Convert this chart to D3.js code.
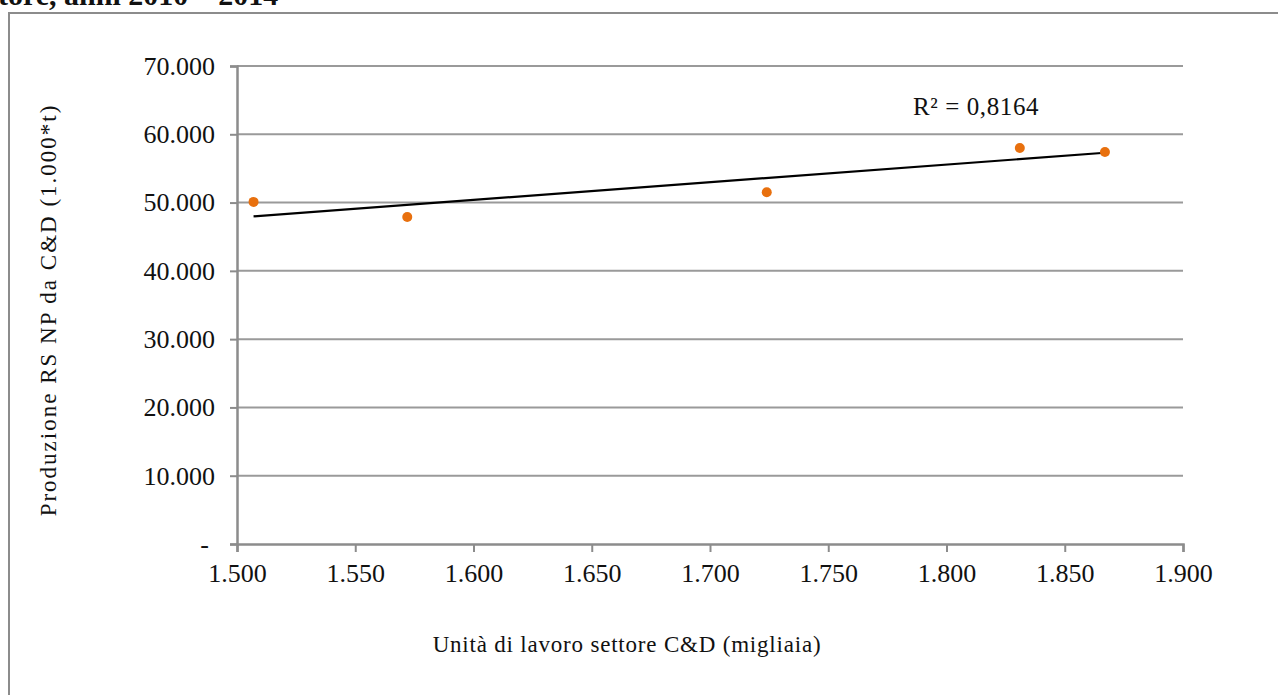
<!DOCTYPE html>
<html>
<head>
<meta charset="utf-8">
<script src="https://cdn.jsdelivr.net/npm/d3@7"></script>
<style>
  html, body { margin: 0; padding: 0; background: #fff; }
  svg { display: block; }
  text { font-family: "Liberation Serif", "Times New Roman", serif; fill: #111; }
</style>
</head>
<body>
<svg id="chart" width="1278" height="695"></svg>
<script>
// Unità di lavoro (migliaia) and produzione RS NP da C&D (1.000*t), 2010–2014
const workUnits = [1507, 1572, 1724, 1831, 1867];
const production = [50100, 47900, 51500, 58000, 57400];
const xTicks = [1500, 1550, 1600, 1650, 1700, 1750, 1800, 1850, 1900];
const yTicks = [0, 10000, 20000, 30000, 40000, 50000, 60000, 70000];
const r2Label = "R² = 0,8164";

const svg = d3.select("#chart");
const fmt = d3.formatLocale({ decimal: ",", thousands: ".", grouping: [3], currency: ["", "€"] }).format(",.0f");

const x = d3.scaleLinear().domain([1500, 1900]).range([237, 1183]);
const y = d3.scaleLinear().domain([0, 70000]).range([544, 66]);

// caption fragment above the frame
svg.append("text")
  .attr("x", -2).attr("y", 5)
  .style("font-weight", "bold").style("font-size", "30px")
  .text("tore, anni 2010 – 2014");

// chart frame (runs past the page edges)
svg.append("rect")
  .attr("x", 9).attr("y", 13).attr("width", 1300).attr("height", 720)
  .attr("fill", "none").attr("stroke", "#8c8c8c").attr("stroke-width", 2);

// horizontal gridlines
svg.append("g").selectAll("line").data(yTicks.filter(d => d > 0)).join("line")
  .attr("x1", x(1500)).attr("x2", x(1900))
  .attr("y1", d => y(d)).attr("y2", d => y(d))
  .attr("stroke", "#9a9a9a").attr("stroke-width", 2);

// y axis
const yAxis = svg.append("g").attr("transform", `translate(${x(1500)},0)`)
  .call(d3.axisLeft(y).tickValues(yTicks).tickSize(7).tickPadding(15)
    .tickFormat(d => d === 0 ? "-" : fmt(d)));
yAxis.select(".domain").attr("stroke", "#8c8c8c").attr("stroke-width", 2.5);
yAxis.selectAll(".tick line").attr("stroke", "#8c8c8c").attr("stroke-width", 2);
yAxis.selectAll(".tick text")
  .style("font-size", "26px")
  .attr("dx", d => d === 0 ? -6 : 0)
  .style("font-family", "'Liberation Serif', serif").attr("fill", "#111");

// x axis
const xAxis = svg.append("g").attr("transform", `translate(0,${y(0)})`)
  .call(d3.axisBottom(x).tickValues(xTicks).tickSize(8).tickPadding(12).tickFormat(d => fmt(d)));
xAxis.select(".domain").attr("stroke", "#8c8c8c").attr("stroke-width", 2.5);
xAxis.selectAll(".tick line").attr("stroke", "#8c8c8c").attr("stroke-width", 2);
xAxis.selectAll(".tick text")
  .style("font-size", "26px")
  .style("font-family", "'Liberation Serif', serif").attr("fill", "#111");

// least-squares trendline across the observed range
const mx = d3.mean(workUnits), my = d3.mean(production);
const sxy = d3.sum(workUnits, (v, i) => (v - mx) * (production[i] - my));
const sxx = d3.sum(workUnits, v => (v - mx) ** 2);
const slope = sxy / sxx, intercept = my - slope * mx;
const [xMin, xMax] = d3.extent(workUnits);
svg.append("line")
  .attr("x1", x(xMin)).attr("y1", y(intercept + slope * xMin))
  .attr("x2", x(xMax)).attr("y2", y(intercept + slope * xMax))
  .attr("stroke", "#000").attr("stroke-width", 2.2);

// observations
svg.append("g").selectAll("circle").data(workUnits).join("circle")
  .attr("cx", d => x(d)).attr("cy", (d, i) => y(production[i]))
  .attr("r", 5).attr("fill", "#E8700E");

svg.append("text")
  .attr("x", 913).attr("y", 115)
  .style("font-size", "25px").style("letter-spacing", "0.6px")
  .text(r2Label);

// axis titles
svg.append("text")
  .attr("x", 627).attr("y", 652).attr("text-anchor", "middle")
  .style("font-size", "23px").style("letter-spacing", "0.8px")
  .text("Unità di lavoro settore C&D (migliaia)");

svg.append("text")
  .attr("transform", "translate(56,310) rotate(-90)").attr("text-anchor", "middle")
  .style("font-size", "23px").style("letter-spacing", "2px")
  .text("Produzione RS NP da C&D (1.000*t)");
</script>
</body>
</html>
